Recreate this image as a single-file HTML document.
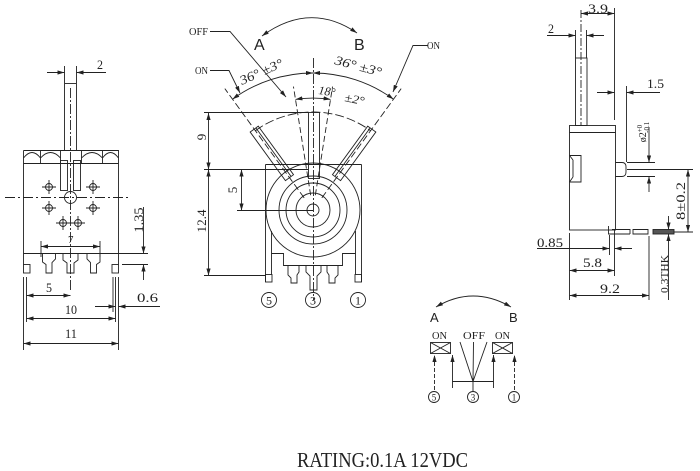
<!DOCTYPE html>
<html><head><meta charset="utf-8"><style>
html,body{margin:0;padding:0;background:#fff;}
svg{display:block}
text{font-family:"Liberation Serif",serif;fill:#222;stroke:none;}
.s{font-family:"Liberation Sans",sans-serif;}
</style></head><body>
<svg width="700" height="471" viewBox="0 0 700 471" xmlns="http://www.w3.org/2000/svg">
<defs>
<marker id="ar" viewBox="0 0 10 6" refX="10" refY="3" markerWidth="7" markerHeight="4.2" orient="auto-start-reverse" markerUnits="userSpaceOnUse"><path d="M0,0L10,3L0,6z" fill="#222"/></marker>
</defs>
<rect width="700" height="471" fill="#fff"/>
<g fill="none" stroke="#222" stroke-width="0.9">
<!-- ================= LEFT VIEW ================= -->
<rect x="64.5" y="83.5" width="12" height="67"/>
<path d="M64.5 66V83 M76.5 66V83"/>
<path d="M23.5 150.5H118.5V264.5 M23.5 150.5V264.5 M23.5 163.5H118.5"/>
<path d="M40.5 150.5V163.5 M60.5 150.5V163.5 M81.5 150.5V163.5 M102.5 150.5V163.5"/>
<path d="M23.5 158Q32 147 40.5 158 M40.5 158Q50.5 147 60.5 158 M81.5 158Q92 147 102.5 158 M102.5 158Q110.5 147 118.5 158"/>
<rect x="60.5" y="160.5" width="7" height="30"/>
<rect x="73.5" y="160.5" width="7" height="30"/>
<circle cx="70.5" cy="197.5" r="6"/>
<circle cx="49" cy="187" r="3.5"/><path d="M42 187H56M49 180V194"/>
<circle cx="93" cy="187" r="3.5"/><path d="M86 187H100M93 180V194"/>
<circle cx="49" cy="208" r="3.5"/><path d="M42 208H56M49 201V215"/>
<circle cx="93" cy="208" r="3.5"/><path d="M86 208H100M93 201V215"/>
<circle cx="63" cy="223" r="3.5"/><path d="M56 223H85M63 216V230"/>
<circle cx="78" cy="223" r="3.5"/><path d="M78 216V230"/>
<path d="M23.5 253.5H118.5"/>
<rect x="23.5" y="264.5" width="6.5" height="8.5"/>
<rect x="112" y="264.5" width="6.5" height="8.5"/>
<path d="M42.5 253.5V262L46 264.5V273H52V262.5L55.5 259V253.5"/>
<path d="M63 253.5V260L67 263V273H74V263L78 260V253.5"/>
<path d="M87 253.5V259L90.5 262.5V273H96.5V264.5L100 262V253.5"/>
<path d="M70.5 88V292" stroke-dasharray="10,2,2,2"/>
<path d="M5 197.5H130" stroke-dasharray="10,3,2,3"/>
<!-- left dims -->
<path d="M47 72.5H64.5" marker-end="url(#ar)"/>
<path d="M106 72.5H76.5" marker-end="url(#ar)"/>
<path d="M41 246.5H100" marker-start="url(#ar)" marker-end="url(#ar)"/>
<path d="M41 241V257M100 241V257"/>
<path d="M143.5 207V253.5" marker-end="url(#ar)"/>
<path d="M143.5 280V264.5" marker-end="url(#ar)"/>
<path d="M103 253.5H148M122 264.5H148"/>
<path d="M23.5 277V350M26.5 277V322M113 277V312M115.5 277V322M118.5 277V350"/>
<path d="M26.5 295.5H70.5" marker-start="url(#ar)" marker-end="url(#ar)"/>
<path d="M95 306.5H115.5" marker-end="url(#ar)"/>
<path d="M160 306.5H118.5" marker-end="url(#ar)"/>
<path d="M26.5 318.5H115.5" marker-start="url(#ar)" marker-end="url(#ar)"/>
<path d="M23.5 343.5H118.5" marker-start="url(#ar)" marker-end="url(#ar)"/>

<!-- ================= MIDDLE VIEW ================= -->
<path d="M265.5 164.5H361.5 M265.5 164.5V282 M361.5 164.5V282"/>
<rect x="265.5" y="274.5" width="6.5" height="7.5"/>
<rect x="355" y="274.5" width="6.5" height="7.5"/>
<path d="M271.5 231V274.5 M355.5 231V274.5"/>
<path d="M271.5 253.5H283.5V265.5H342.5V253.5H355.5"/>
<path d="M288 265.5V275L291 278V283H297V275L299 272V265.5"/>
<path d="M306 265.5V272L310 276V290H317V276L321 272V265.5"/>
<path d="M338 265.5V275L335 278V283H329V275L327 272V265.5"/>
<circle cx="313" cy="210" r="47"/>
<circle cx="313" cy="210" r="34"/>
<circle cx="313" cy="210" r="27"/>
<circle cx="313" cy="210" r="17"/>
<circle cx="313" cy="210" r="6"/>
<!-- levers -->
<path d="M250.18 132.04L258.27 126.16L293.53 174.7L285.44 180.58Z M255.84 127.92L291.1 176.46"/>
<path d="M375.82 132.04L367.73 126.16L332.47 174.7L340.56 180.58Z M370.16 127.92L334.9 176.46"/>
<rect x="308.5" y="112.5" width="11" height="66"/>
<path d="M313.5 58V300" stroke-dasharray="10,2,2,2"/>
<path d="M255.4 130.7A98 98 0 0 1 370.6 130.7" stroke-dasharray="9,3"/>
<path d="M304.18 197.87L224.83 88.65 M321.82 197.87L401.17 88.65" stroke-dasharray="7,3"/>
<path d="M310.65 195.18L293.45 86.54 M315.35 195.18L332.55 86.54" stroke-dasharray="6,3"/>
<path d="M232.5 99.2A137 137 0 0 1 313 73" marker-start="url(#ar)" marker-end="url(#ar)"/>
<path d="M313 73A137 137 0 0 1 393.5 99.2" marker-start="url(#ar)" marker-end="url(#ar)"/>
<path d="M295.5 99.4A112 112 0 0 1 330.5 99.4" marker-start="url(#ar)" marker-end="url(#ar)"/>
<!-- leaders -->
<path d="M210 31.5H230L286 97" marker-end="url(#ar)"/>
<path d="M210 70.5H229L240 93" marker-end="url(#ar)"/>
<path d="M428 45.5H413L393 92" marker-end="url(#ar)"/>
<path d="M262 36Q310 1 357 33" marker-start="url(#ar)" marker-end="url(#ar)"/>
<!-- middle dims -->
<path d="M204 112.5H308.5 M204 169.5H308 M204 275.5H265 M237 210.5H313"/>
<path d="M208.5 113V169.5" marker-start="url(#ar)" marker-end="url(#ar)"/>
<path d="M208.5 169.5V275.5" marker-start="url(#ar)" marker-end="url(#ar)"/>
<path d="M241.5 169.5V210.5" marker-start="url(#ar)" marker-end="url(#ar)"/>
<circle cx="269" cy="300" r="7.5"/>
<circle cx="313" cy="300" r="7.5"/>
<circle cx="358" cy="300" r="7.5"/>

<!-- ================= RIGHT VIEW ================= -->
<rect x="575.5" y="58" width="11.5" height="67.5"/>
<path d="M581 10V125" stroke-dasharray="8,2,2,2"/>
<path d="M575.5 30V58 M586.5 30V58"/>
<path d="M547 35.5H575.5" marker-end="url(#ar)"/>
<path d="M604 35.5H586.5" marker-end="url(#ar)"/>
<path d="M581 13.5H614.5" marker-start="url(#ar)" marker-end="url(#ar)"/>
<path d="M614.5 8V120"/>
<rect x="569.5" y="125.5" width="46" height="104.5"/>
<path d="M569.5 132.5H615.5"/>
<path d="M569.5 155.5H581V182H569.5 M573 160V177 M569.5 155.5L573 160 M569.5 182L573 177"/>
<path d="M615.5 162.5H622Q626 162.5 626 167V172Q626 176.5 622 176.5H615.5"/>
<path d="M627 162.5H655 M627 169.5H693 M627 176.5H655"/>
<path d="M597 92.5H614.5" marker-end="url(#ar)"/>
<path d="M660 92.5H626.5" marker-end="url(#ar)"/>
<path d="M626.5 86V162"/>
<path d="M649 127V162.5" marker-end="url(#ar)"/>
<path d="M649 192V176.5" marker-end="url(#ar)"/>
<path d="M688 169.5V232" marker-start="url(#ar)" marker-end="url(#ar)"/>
<path d="M608.5 226V234H630 M612 229.5H630V234 M633 229.5H648V234H633Z"/>
<rect x="653" y="229.5" width="21" height="4.5" fill="#555"/>
<path d="M674 232H693"/>
<path d="M668.5 216V229.5" marker-end="url(#ar)"/>
<path d="M668.5 300V234" marker-end="url(#ar)"/>
<path d="M609.5 235V255 M614.5 230V276 M569.5 233V300 M649 236V300"/>
<path d="M537 248.5H609.5" marker-end="url(#ar)"/>
<path d="M632 248.5H614.5" marker-end="url(#ar)"/>
<path d="M569.5 270.5H614.5" marker-start="url(#ar)" marker-end="url(#ar)"/>
<path d="M569.5 295.5H649" marker-start="url(#ar)" marker-end="url(#ar)"/>

<!-- ================= SCHEMATIC ================= -->
<path d="M436 307Q473 285 511 307" marker-start="url(#ar)" marker-end="url(#ar)"/>
<rect x="430.5" y="342.5" width="20" height="11"/>
<path d="M430.5 342.5L450.5 353.5M450.5 342.5L430.5 353.5"/>
<rect x="492.5" y="342.5" width="20" height="11"/>
<path d="M492.5 342.5L512.5 353.5M512.5 342.5L492.5 353.5"/>
<path d="M434.5 390V355" stroke-dasharray="4,2" marker-end="url(#ar)"/>
<path d="M452.5 388V355" marker-end="url(#ar)"/>
<path d="M493.5 388V355" marker-end="url(#ar)"/>
<path d="M514.5 390V355" stroke-dasharray="4,2" marker-end="url(#ar)"/>
<path d="M452.5 381.5H493.5 M473 381.5V391 M473 381.5L460 342 M473 381.5L473.5 342 M473 381.5L487 342"/>
<circle cx="434" cy="397" r="5.5"/>
<circle cx="473" cy="397" r="5.5"/>
<circle cx="514" cy="397" r="5.5"/>
</g>

<!-- ================= TEXT ================= -->
<g font-size="13">
<!-- left -->
<text x="97" y="69" textLength="6" lengthAdjust="spacingAndGlyphs">2</text>
<text x="68" y="243" font-size="11">7</text>
<text transform="translate(143,220) rotate(-90)" text-anchor="middle" textLength="25" lengthAdjust="spacingAndGlyphs">1.35</text>
<text x="46" y="292" textLength="6" lengthAdjust="spacingAndGlyphs">5</text>
<text x="65" y="314" textLength="12" lengthAdjust="spacingAndGlyphs">10</text>
<text x="65" y="338" textLength="12" lengthAdjust="spacingAndGlyphs">11</text>
<text x="137" y="302" textLength="21" lengthAdjust="spacingAndGlyphs">0.6</text>
<!-- middle -->
<text x="189" y="35" font-size="11" textLength="19" lengthAdjust="spacingAndGlyphs">OFF</text>
<text x="195" y="74" font-size="11" textLength="13" lengthAdjust="spacingAndGlyphs">ON</text>
<text x="427" y="49" font-size="11" textLength="13" lengthAdjust="spacingAndGlyphs">ON</text>
<text class="s" x="254" y="50" font-size="16">A</text>
<text class="s" x="354" y="50" font-size="16">B</text>
<text transform="translate(242,85) rotate(-24)" font-style="italic" font-size="13" textLength="46" lengthAdjust="spacingAndGlyphs">36°  ±3°</text>
<text transform="translate(334,64) rotate(15)" font-style="italic" font-size="13" textLength="48" lengthAdjust="spacingAndGlyphs">36°  ±3°</text>
<text transform="translate(318,94) rotate(8)" font-style="italic" font-size="12" textLength="17" lengthAdjust="spacingAndGlyphs">18°</text>
<text transform="translate(344,101) rotate(12)" font-style="italic" font-size="12" textLength="20" lengthAdjust="spacingAndGlyphs">±2°</text>
<text transform="translate(206,137) rotate(-90)" text-anchor="middle">9</text>
<text transform="translate(206,221) rotate(-90)" text-anchor="middle" textLength="23" lengthAdjust="spacingAndGlyphs">12.4</text>
<text transform="translate(237,190) rotate(-90)" text-anchor="middle">5</text>
<text x="269" y="304.5" font-size="12" text-anchor="middle">5</text>
<text x="313" y="304.5" font-size="12" text-anchor="middle">3</text>
<text x="358" y="304.5" font-size="12" text-anchor="middle">1</text>
<!-- right -->
<text x="588" y="13" textLength="20" lengthAdjust="spacingAndGlyphs">3.9</text>
<text x="548" y="33" textLength="6" lengthAdjust="spacingAndGlyphs">2</text>
<text x="647" y="88" textLength="17" lengthAdjust="spacingAndGlyphs">1.5</text>
<text transform="translate(646,132) rotate(-90)" text-anchor="middle" font-size="10">ø2<tspan font-size="7" dy="-4">+0</tspan><tspan font-size="7" dx="-8" dy="7">-0.1</tspan></text>
<text transform="translate(685,201) rotate(-90)" text-anchor="middle" textLength="38" lengthAdjust="spacingAndGlyphs">8±0.2</text>
<text transform="translate(668,274) rotate(-90)" text-anchor="middle" font-size="11" textLength="38" lengthAdjust="spacingAndGlyphs">0.3THK</text>
<text x="537" y="247" textLength="26" lengthAdjust="spacingAndGlyphs">0.85</text>
<text x="583" y="267" textLength="19" lengthAdjust="spacingAndGlyphs">5.8</text>
<text x="600" y="293" textLength="20" lengthAdjust="spacingAndGlyphs">9.2</text>
<!-- schematic -->
<text class="s" x="430" y="322" font-size="13">A</text>
<text class="s" x="509" y="322" font-size="13">B</text>
<text x="432" y="339" font-size="11" textLength="15" lengthAdjust="spacingAndGlyphs">ON</text>
<text x="463" y="339" font-size="11" textLength="22" lengthAdjust="spacingAndGlyphs">OFF</text>
<text x="495" y="339" font-size="11" textLength="15" lengthAdjust="spacingAndGlyphs">ON</text>
<text x="434" y="400.5" font-size="9" text-anchor="middle">5</text>
<text x="473" y="400.5" font-size="9" text-anchor="middle">3</text>
<text x="514" y="400.5" font-size="9" text-anchor="middle">1</text>
<!-- rating -->
<text x="297" y="467" font-size="21" textLength="171" lengthAdjust="spacingAndGlyphs">RATING:0.1A 12VDC</text>
</g>
</svg>
</body></html>
